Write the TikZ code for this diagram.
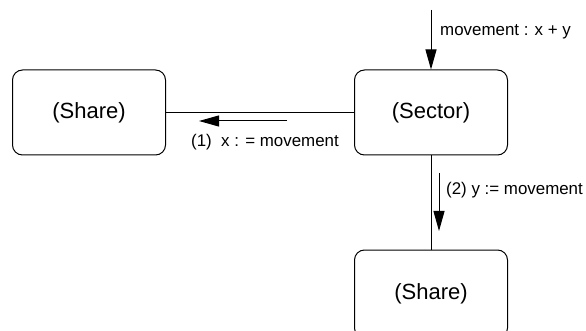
\documentclass[tikz,border=0pt]{standalone}
\usepackage{fontspec}
\setmainfont{Liberation Sans}
\usetikzlibrary{arrows.meta}
\begin{document}
\begin{tikzpicture}[x=1pt,y=-1pt,
  objbox/.style={draw,line width=1pt,rounded corners=10pt,minimum width=153pt,
    inner sep=0pt,font=\fontsize{22}{26}\selectfont},
  link/.style={line width=1pt},
  msgarrow/.style={line width=1pt,-{Triangle[length=20pt,width=11pt]}},
  msglabel/.style={inner sep=0pt,font=\fontsize{16.9}{20}\selectfont}]
\useasboundingbox (0,0) rectangle (586,331);
\node[objbox,minimum height=85pt] (share1) at (89,112.5) {(Share)};
\node[objbox,minimum height=85pt] (sector) at (431,112.5) {(Sector)};
\node[objbox,minimum height=88pt] (share2) at (431,294) {(Share)};
\coordinate (src) at (431,10);
% links between objects
\draw[link] (sector.west) -- (share1.east);
\draw[link] (sector.south) -- (share2.north);
% incoming message
\draw[msgarrow] (src) -- (sector.north);
\node[msglabel,anchor=west] (lbl0) at (440,32) {movement : x + y};
% message (1)
\coordinate (m1a) at (287,121);
\coordinate (m1b) at (199,121);
\draw[msgarrow] (m1a) -- (m1b);
\node[msglabel,anchor=west] (lbl1) at (191,142) {(1)\ \ x : = movement};
% message (2)
\coordinate (m2a) at (439,173);
\coordinate (m2b) at (439,231);
\draw[msgarrow] (m2a) -- (m2b);
\node[msglabel,anchor=west] (lbl2) at (446,190) {(2) y := movement};
\end{tikzpicture}
\end{document}
